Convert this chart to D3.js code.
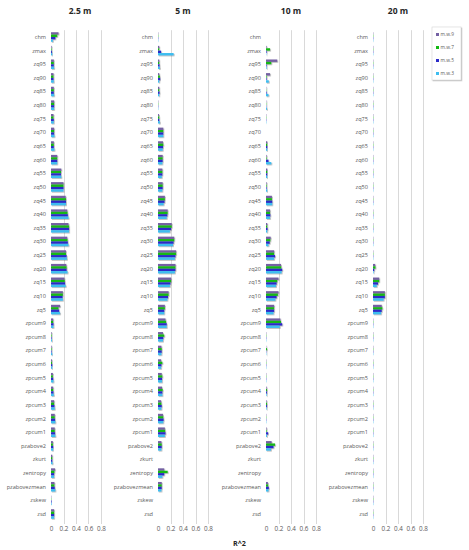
<!DOCTYPE html>
<html>
<head>
<meta charset="utf-8">
<script src="https://cdn.jsdelivr.net/npm/d3@7"></script>
<style>
  body { margin: 0; background: #fff; }
  text { font-family: "Open Sans", "DejaVu Sans", sans-serif; }
</style>
</head>
<body>
<svg id="chart" width="469" height="550"></svg>
<script>
// metric names, top to bottom
const metrics = ["chm", "zmax", "zq95", "zq90", "zq85", "zq80", "zq75", "zq70", "zq65", "zq60",
  "zq55", "zq50", "zq45", "zq40", "zq35", "zq30", "zq25", "zq20", "zq15", "zq10", "zq5",
  "zpcum9", "zpcum8", "zpcum7", "zpcum6", "zpcum5", "zpcum4", "zpcum3", "zpcum2", "zpcum1",
  "pzabove2", "zkurt", "zentropy", "pzabovezmean", "zskew", "zsd"];

const seriesNames = ["m.w.9", "m.w.7", "m.w.5", "m.w.3"];
const seriesColors = ["#7461a3", "#12b812", "#2b2bc8", "#3ebdf0"];

const panelTitles = ["2.5 m", "5 m", "10 m", "20 m"];
const xTicks = [0, 0.2, 0.4, 0.6, 0.8];

// R^2 per metric, columns in seriesNames order
const r2_2_5m = [
  [0.12, 0.10, 0.07, 0.03], [0.01, 0.01, 0.015, 0.02], [0.045, 0.045, 0.045, 0.05], [0.04, 0.04, 0.04, 0.045],
  [0.045, 0.045, 0.045, 0.05], [0.05, 0.05, 0.05, 0.05], [0.04, 0.04, 0.045, 0.045], [0.05, 0.05, 0.05, 0.055],
  [0.045, 0.045, 0.045, 0.055], [0.10, 0.10, 0.10, 0.10], [0.165, 0.16, 0.16, 0.165], [0.20, 0.20, 0.20, 0.20],
  [0.235, 0.24, 0.24, 0.24], [0.26, 0.265, 0.27, 0.28], [0.28, 0.29, 0.29, 0.29], [0.26, 0.265, 0.27, 0.28],
  [0.24, 0.24, 0.25, 0.255], [0.245, 0.25, 0.25, 0.265], [0.215, 0.22, 0.225, 0.235], [0.19, 0.19, 0.185, 0.19],
  [0.145, 0.12, 0.13, 0.145], [0.035, 0.035, 0.04, 0.04], [0.01, 0.01, 0.01, 0.015], [0.01, 0.01, 0.01, 0.02],
  [0.015, 0.015, 0.02, 0.02], [0.03, 0.03, 0.035, 0.04], [0.035, 0.035, 0.04, 0.045], [0.05, 0.05, 0.055, 0.06],
  [0.06, 0.06, 0.065, 0.07], [0.06, 0.06, 0.065, 0.07], [0.03, 0.03, 0.035, 0.035], [0.02, 0.02, 0.02, 0.025],
  [0.065, 0.055, 0.05, 0.05], [0.055, 0.055, 0.06, 0.07], [0.005, 0.005, 0.01, 0.01], [0.05, 0.05, 0.05, 0.05]
];

const r2_5m = [
  [0.005, 0.005, 0.005, 0.005], [0.02, 0.02, 0.05, 0.25], [0.02, 0.02, 0.025, 0.03], [0.02, 0.03, 0.035, 0.02],
  [0.02, 0.02, 0.025, 0.02], [0.005, 0.005, 0.005, 0.005], [0.015, 0.02, 0.02, 0.03], [0.085, 0.085, 0.085, 0.085],
  [0.08, 0.085, 0.08, 0.075], [0.075, 0.075, 0.075, 0.07], [0.07, 0.07, 0.07, 0.06], [0.075, 0.075, 0.075, 0.07],
  [0.11, 0.11, 0.105, 0.09], [0.155, 0.155, 0.15, 0.14], [0.22, 0.22, 0.21, 0.19], [0.26, 0.26, 0.25, 0.24],
  [0.29, 0.29, 0.28, 0.27], [0.28, 0.28, 0.28, 0.27], [0.21, 0.21, 0.20, 0.19], [0.17, 0.17, 0.16, 0.15],
  [0.11, 0.11, 0.10, 0.10], [0.12, 0.13, 0.14, 0.14], [0.08, 0.10, 0.085, 0.08], [0.055, 0.06, 0.06, 0.055],
  [0.05, 0.07, 0.055, 0.05], [0.06, 0.07, 0.065, 0.065], [0.065, 0.075, 0.07, 0.07], [0.05, 0.055, 0.06, 0.055],
  [0.08, 0.085, 0.09, 0.085], [0.11, 0.115, 0.12, 0.11], [0.055, 0.06, 0.06, 0.055], [0, 0, 0, 0],
  [0.10, 0.155, 0.10, 0.07], [0.06, 0.06, 0.06, 0.055], [0, 0, 0, 0], [0, 0, 0, 0]
];

const r2_10m = [
  [0, 0, 0, 0], [0.01, 0.065, 0.01, 0.005], [0.18, 0.085, 0.01, 0.01], [0.065, 0.01, 0.01, 0.045],
  [0.005, 0.005, 0.01, 0.04], [0.005, 0.005, 0.005, 0.015], [0.005, 0.005, 0.005, 0.005], [0, 0, 0, 0],
  [0.02, 0.02, 0.02, 0.02], [0.01, 0.01, 0.04, 0.085], [0.02, 0.02, 0.02, 0.02], [0.01, 0.01, 0.01, 0.02],
  [0.095, 0.095, 0.10, 0.10], [0.065, 0.065, 0.07, 0.065], [0.02, 0.02, 0.025, 0.02], [0.075, 0.07, 0.06, 0.04],
  [0.13, 0.13, 0.145, 0.13], [0.24, 0.245, 0.26, 0.25], [0.20, 0.18, 0.17, 0.16], [0.20, 0.19, 0.17, 0.15],
  [0.13, 0.13, 0.13, 0.12], [0.23, 0.24, 0.26, 0.22], [0.005, 0.005, 0.005, 0.005], [0.005, 0.015, 0.005, 0.005],
  [0.005, 0.005, 0.005, 0.005], [0.005, 0.005, 0.005, 0.005], [0.01, 0.015, 0.015, 0.01], [0.01, 0.015, 0.015, 0.01],
  [0.005, 0.005, 0.005, 0.005], [0.01, 0.01, 0.035, 0.015], [0.09, 0.145, 0.12, 0.08], [0, 0, 0, 0],
  [0, 0, 0, 0], [0.03, 0.035, 0.045, 0.04], [0, 0, 0, 0], [0, 0, 0, 0]
];

const r2_20m = [
  [0.005, 0.005, 0.005, 0.005], [0.005, 0.005, 0.005, 0.005], [0.005, 0.005, 0.005, 0.005], [0.005, 0.005, 0.005, 0.005],
  [0.005, 0.005, 0.005, 0.005], [0.005, 0.005, 0.005, 0.005], [0.005, 0.005, 0.005, 0.005], [0.005, 0.005, 0.005, 0.005],
  [0.005, 0.005, 0.005, 0.005], [0.005, 0.005, 0.005, 0.005], [0.005, 0.005, 0.005, 0.005], [0.005, 0.005, 0.005, 0.005],
  [0.005, 0.005, 0.005, 0.005], [0.005, 0.005, 0.005, 0.005], [0.005, 0.005, 0.005, 0.005], [0.005, 0.005, 0.005, 0.005],
  [0.005, 0.005, 0.005, 0.005], [0.035, 0.04, 0.02, 0.01], [0.10, 0.10, 0.08, 0.06], [0.19, 0.19, 0.19, 0.17],
  [0.14, 0.15, 0.14, 0.13], [0.005, 0.005, 0.005, 0.005], [0.005, 0.005, 0.005, 0.005], [0.005, 0.005, 0.005, 0.005],
  [0.005, 0.005, 0.005, 0.005], [0.005, 0.005, 0.005, 0.005], [0.005, 0.005, 0.005, 0.005], [0.005, 0.005, 0.005, 0.005],
  [0.005, 0.005, 0.005, 0.005], [0.005, 0.005, 0.005, 0.005], [0.005, 0.005, 0.005, 0.005], [0.005, 0.005, 0.005, 0.005],
  [0.005, 0.005, 0.005, 0.005], [0.005, 0.005, 0.005, 0.005], [0.005, 0.005, 0.005, 0.005], [0.005, 0.005, 0.005, 0.005]
];

const panelData = [r2_2_5m, r2_5m, r2_10m, r2_20m];

// layout
const panelLeft = [51, 158, 266, 373];
const plotWidth = 50;
const plotTop = 30.2, plotBottom = 520.8;
const gridBottom = 524;
const labelColor = "#595959";
const gridColor = "#d9d9d9";

const svg = d3.select("#chart");

// soft drop shadow under bars and legend (Excel style)
const defs = svg.append("defs");
const shadow = defs.append("filter").attr("id", "shadow")
  .attr("x", "-20%").attr("y", "-20%").attr("width", "150%").attr("height", "160%");
shadow.append("feDropShadow")
  .attr("dx", 0.8).attr("dy", 0.8).attr("stdDeviation", 0.5)
  .attr("flood-color", "#555").attr("flood-opacity", 0.45);

const y = d3.scaleBand().domain(metrics).range([plotTop, plotBottom]).paddingInner(0.3).paddingOuter(0.15);
const ySub = d3.scaleBand().domain(seriesNames).range([0, y.bandwidth()]);

panelData.forEach((rows, p) => {
  const x = d3.scaleLinear().domain([0, 0.8]).range([panelLeft[p], panelLeft[p] + plotWidth]);
  const g = svg.append("g").attr("class", "panel");

  // vertical gridlines
  g.selectAll("line.grid")
    .data(xTicks.filter(t => t > 0))
    .join("line")
    .attr("class", "grid")
    .attr("x1", d => Math.round(x(d)) + 0.5).attr("x2", d => Math.round(x(d)) + 0.5)
    .attr("y1", plotTop).attr("y2", gridBottom)
    .attr("stroke", gridColor).attr("stroke-width", 1);

  // x axis tick labels
  const xAxis = d3.axisBottom(x).tickValues(xTicks).tickSize(0).tickPadding(0)
    .tickFormat(d => d === 0 ? "0" : d3.format(".1f")(d));
  const ax = g.append("g").attr("transform", `translate(0,${gridBottom + 2.6})`).call(xAxis);
  ax.select(".domain").remove();
  ax.selectAll("text").attr("fill", labelColor).attr("font-size", 6.3);

  // category labels
  g.selectAll("text.cat")
    .data(metrics)
    .join("text")
    .attr("class", "cat")
    .attr("x", panelLeft[p] - 5)
    .attr("y", d => y(d) + y.bandwidth() / 2)
    .attr("dy", "0.35em")
    .attr("text-anchor", "end")
    .attr("font-size", 5.6)
    .attr("fill", labelColor)
    .text(d => d);

  // bars
  const groups = g.selectAll("g.metric")
    .data(rows)
    .join("g")
    .attr("class", "metric")
    .attr("filter", "url(#shadow)")
    .attr("transform", (d, i) => `translate(0,${y(metrics[i])})`);

  groups.selectAll("rect")
    .data(d => d.map((v, k) => ({ v, k })))
    .join("rect")
    .attr("x", x(0))
    .attr("y", d => ySub(seriesNames[d.k]))
    .attr("width", d => x(d.v) - x(0))
    .attr("height", ySub.bandwidth())
    .attr("fill", d => seriesColors[d.k]);

  // panel title
  svg.append("text")
    .attr("x", panelLeft[p] + plotWidth / 2 + (p === 0 ? 4 : 0))
    .attr("y", 14)
    .attr("text-anchor", "middle")
    .attr("font-size", 8.5)
    .attr("font-weight", "bold")
    .attr("fill", "#262626")
    .text(panelTitles[p]);
});

// axis title
svg.append("text")
  .attr("x", 233).attr("y", 545.5)
  .attr("font-size", 7.2).attr("font-weight", "bold")
  .attr("fill", "#262626")
  .text("R^2");

// legend
const legend = svg.append("g").attr("transform", "translate(432,27)");
legend.append("rect")
  .attr("width", 29).attr("height", 53)
  .attr("fill", "#fff")
  .attr("stroke", "#d0d0d0").attr("stroke-width", 0.5)
  .attr("filter", "url(#shadow)");
const items = legend.selectAll("g.item")
  .data(seriesNames)
  .join("g")
  .attr("class", "item")
  .attr("transform", (d, i) => `translate(4,${6 + i * 13})`);
items.append("rect")
  .attr("width", 3).attr("height", 3)
  .attr("fill", (d, i) => seriesColors[i]);
items.append("text")
  .attr("x", 4.5).attr("y", 1.5).attr("dy", "0.35em")
  .attr("font-size", 4.8).attr("fill", labelColor)
  .text(d => d);
</script>
</body>
</html>
